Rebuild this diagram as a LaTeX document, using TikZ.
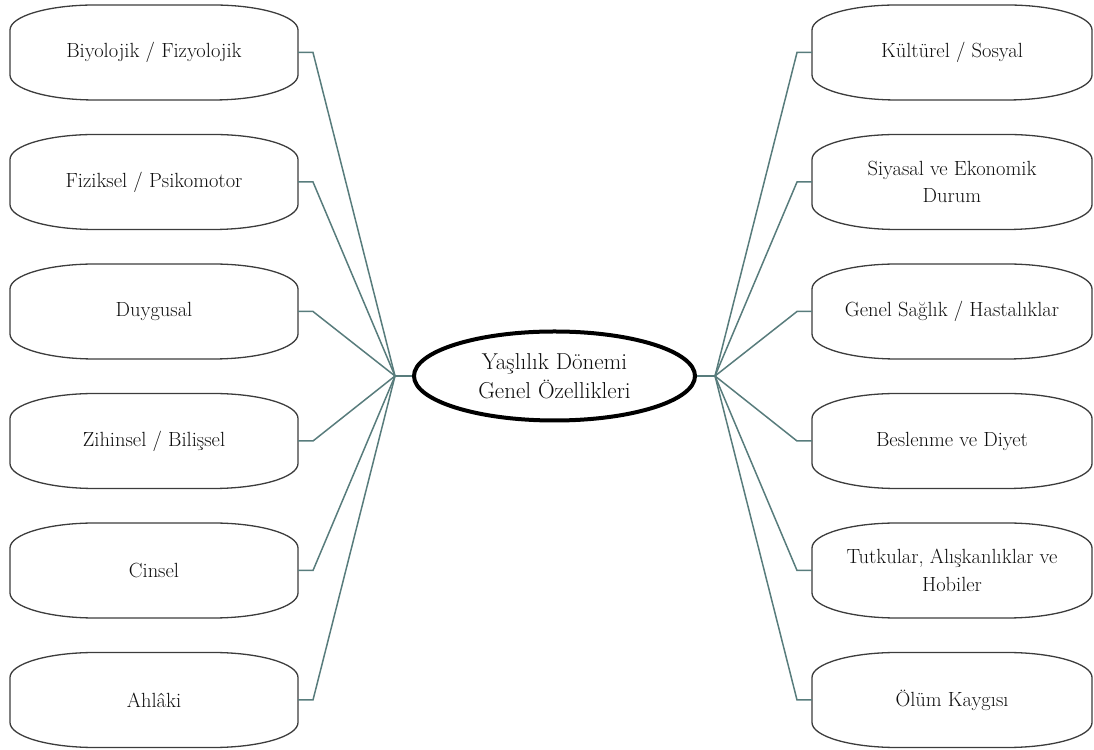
\documentclass[tikz,border=0pt]{standalone}
\usetikzlibrary{shapes.geometric,calc}
\definecolor{connc}{RGB}{88,124,124}
\definecolor{boxc}{RGB}{60,60,60}
\definecolor{txtc}{RGB}{15,15,15}
\begin{document}
\begin{tikzpicture}[x=1pt,y=1pt,
  lbox/.style={draw=none,minimum width=288pt,minimum height=95pt,inner sep=0pt,outer sep=0pt,
    align=center,text=txtc,font=\fontsize{20.5}{27.5}\selectfont},
  rbox/.style={lbox,minimum width=280pt},
  center/.style={ellipse,draw=black,line width=4pt,minimum width=281pt,minimum height=89pt,
    inner sep=0pt,align=center,text=txtc,font=\fontsize{23}{28.5}\selectfont},
  boxline/.style={draw=boxc,line width=1.3pt},
  conn/.style={draw=connc,line width=1.5pt,line join=miter}]
\useasboundingbox (0,0) rectangle (1094,749);
\node[center] (C) at (554.5,373) {Yaşlılık Dönemi\\Genel Özellikleri};
\coordinate (JL) at (395,373);
\coordinate (JR) at (715,373);
% left boxes
\node[lbox] (L1) at (154,696.5) {Biyolojik / Fizyolojik};
\node[lbox] (L2) at (154,567) {Fiziksel / Psikomotor};
\node[lbox] (L3) at (154,437.5) {Duygusal};
\node[lbox] (L4) at (154,308) {Zihinsel / Bilişsel};
\node[lbox] (L5) at (154,178.5) {Cinsel};
\node[lbox] (L6) at (154,49) {Ahlâki};
% right boxes
\node[rbox] (R1) at (952,696.5) {Kültürel / Sosyal};
\node[rbox] (R2) at (952,567) {Siyasal ve Ekonomik\\Durum};
\node[rbox] (R3) at (952,437.5) {Genel Sağlık / Hastalıklar};
\node[rbox] (R4) at (952,308) {Beslenme ve Diyet};
\node[rbox] (R5) at (952,178.5) {Tutkular, Alışkanlıklar ve\\Hobiler};
\node[rbox] (R6) at (952,49) {Ölüm Kaygısı};
\foreach \n in {L1,L2,L3,L4,L5,L6,R1,R2,R3,R4,R5,R6}{
  \draw[boxline] ([yshift=-25pt]\n.north west) -- ([yshift=25pt]\n.south west)
    arc[start angle=180,end angle=270,x radius=85pt,y radius=25pt]
    -- ([xshift=-85pt]\n.south east)
    arc[start angle=270,end angle=360,x radius=85pt,y radius=25pt]
    -- ([yshift=-25pt]\n.north east)
    arc[start angle=0,end angle=90,x radius=85pt,y radius=25pt]
    -- ([xshift=85pt]\n.north west)
    arc[start angle=90,end angle=180,x radius=85pt,y radius=25pt] -- cycle;
}
\foreach \n in {L1,L2,L3,L4,L5,L6}{
  \draw[conn] (\n.east) -- ++(15,0) -- (JL);
}
\foreach \n in {R1,R2,R3,R4,R5,R6}{
  \draw[conn] (\n.west) -- ++(-15,0) -- (JR);
}
\draw[conn] (JL) -- (C.west);
\draw[conn] (C.east) -- (JR);
\end{tikzpicture}
\end{document}
